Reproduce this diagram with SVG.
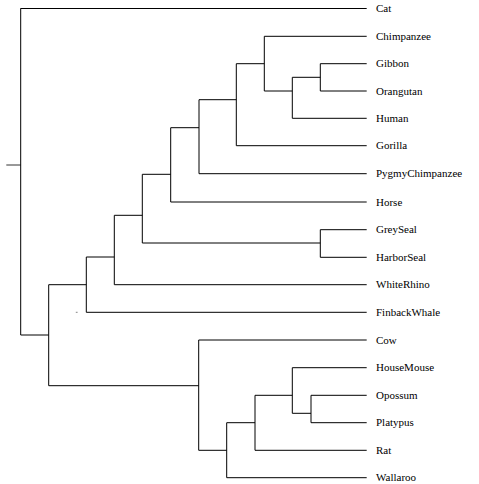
<svg xmlns="http://www.w3.org/2000/svg" width="479" height="484" viewBox="0 0 479 484">
<style>
.e{fill:none;stroke:#000;stroke-width:1}
.g{fill:none;stroke:#333;stroke-width:1}
text{font-family:"Liberation Serif","Times New Roman",serif;font-size:11px;fill:#000}
</style>
<rect width="479" height="484" fill="#fff"/>
<g id="connectors">
<path class="g" d="M6.3,165H20.7"/>
<path class="e" d="M20.7,8.5H366.7"/>
<path class="e" d="M20.7,335H48.7"/>
<path class="e" d="M48.7,284.7H86.3"/>
<path class="e" d="M48.7,385.7H198.7"/>
<path class="e" d="M86.3,257H114.3"/>
<path class="e" d="M86.3,312.3H366.7"/>
<path class="e" d="M114.3,215.3H142.3"/>
<path class="e" d="M114.3,284.7H366.7"/>
<path class="e" d="M142.3,174.3H170.7"/>
<path class="e" d="M142.3,243H320.3"/>
<path class="e" d="M170.7,127.7H199"/>
<path class="e" d="M170.7,202H366.7"/>
<path class="e" d="M199,99.7H236.3"/>
<path class="e" d="M199,173.7H366.7"/>
<path class="e" d="M236.3,63.7H264.3"/>
<path class="e" d="M236.3,145.7H366.7"/>
<path class="e" d="M264.3,36.3H366.7"/>
<path class="e" d="M264.3,91H292.3"/>
<path class="e" d="M292.3,77.3H320.3"/>
<path class="e" d="M292.3,118.3H366.7"/>
<path class="e" d="M320.3,63.7H366.7"/>
<path class="e" d="M320.3,91H366.7"/>
<path class="e" d="M320.3,229.7H366.7"/>
<path class="e" d="M320.3,257.3H366.7"/>
<path class="e" d="M198.7,340H366.7"/>
<path class="e" d="M198.7,450.3H226.7"/>
<path class="e" d="M226.7,422.7H255"/>
<path class="e" d="M226.7,477.7H366.7"/>
<path class="e" d="M255,395.3H292.3"/>
<path class="e" d="M255,450.3H366.7"/>
<path class="e" d="M292.3,367.7H366.7"/>
<path class="e" d="M292.3,413.3H311"/>
<path class="e" d="M311,395.3H366.7"/>
<path class="e" d="M311,422.7H366.7"/>
<path class="g" d="M75.8,312.3H77.6" stroke-opacity="0.6"/>
</g>
<g id="n_root"><path class="e" d="M20.7,8.3V335"/></g>
<g id="n_A"><path class="e" d="M48.7,284.7V385.7"/></g>
<g id="n_B"><path class="e" d="M86.3,257V312.3"/></g>
<g id="n_C"><path class="e" d="M114.3,215.3V284.7"/></g>
<g id="n_D"><path class="e" d="M142.3,174.3V243"/></g>
<g id="n_N6"><path class="e" d="M170.7,127.7V202"/></g>
<g id="n_N5"><path class="e" d="M199,99.7V173.7"/></g>
<g id="n_N4"><path class="e" d="M236.3,63.7V145.7"/></g>
<g id="n_N1"><path class="e" d="M264.3,36.3V91"/></g>
<g id="n_N2"><path class="e" d="M292.3,77.3V118.3"/></g>
<g id="n_N3"><path class="e" d="M320.3,63.7V91"/></g>
<g id="n_seals"><path class="e" d="M320.3,229.7V257.3"/></g>
<g id="n_L1"><path class="e" d="M198.7,340V450.3"/></g>
<g id="n_L2"><path class="e" d="M226.7,422.7V477.7"/></g>
<g id="n_L3"><path class="e" d="M255,395.3V450.3"/></g>
<g id="n_L4"><path class="e" d="M292.3,367.7V413.3"/></g>
<g id="n_L5"><path class="e" d="M311,395.3V422.7"/></g>
<g id="leaf_Cat"><text x="376" y="12.2">Cat</text></g>
<g id="leaf_Chimpanzee"><text x="376" y="40">Chimpanzee</text></g>
<g id="leaf_Gibbon"><text x="376" y="67.4">Gibbon</text></g>
<g id="leaf_Orangutan"><text x="376" y="94.7">Orangutan</text></g>
<g id="leaf_Human"><text x="376" y="122">Human</text></g>
<g id="leaf_Gorilla"><text x="376" y="149.4">Gorilla</text></g>
<g id="leaf_PygmyChimpanzee"><text x="376" y="177.4">PygmyChimpanzee</text></g>
<g id="leaf_Horse"><text x="376" y="205.7">Horse</text></g>
<g id="leaf_GreySeal"><text x="376" y="233.4">GreySeal</text></g>
<g id="leaf_HarborSeal"><text x="376" y="261">HarborSeal</text></g>
<g id="leaf_WhiteRhino"><text x="376" y="288.4">WhiteRhino</text></g>
<g id="leaf_FinbackWhale"><text x="376" y="316">FinbackWhale</text></g>
<g id="leaf_Cow"><text x="376" y="343.7">Cow</text></g>
<g id="leaf_HouseMouse"><text x="376" y="371.4">HouseMouse</text></g>
<g id="leaf_Opossum"><text x="376" y="399">Opossum</text></g>
<g id="leaf_Platypus"><text x="376" y="426.4">Platypus</text></g>
<g id="leaf_Rat"><text x="376" y="454">Rat</text></g>
<g id="leaf_Wallaroo"><text x="376" y="481.4">Wallaroo</text></g>
</svg>
